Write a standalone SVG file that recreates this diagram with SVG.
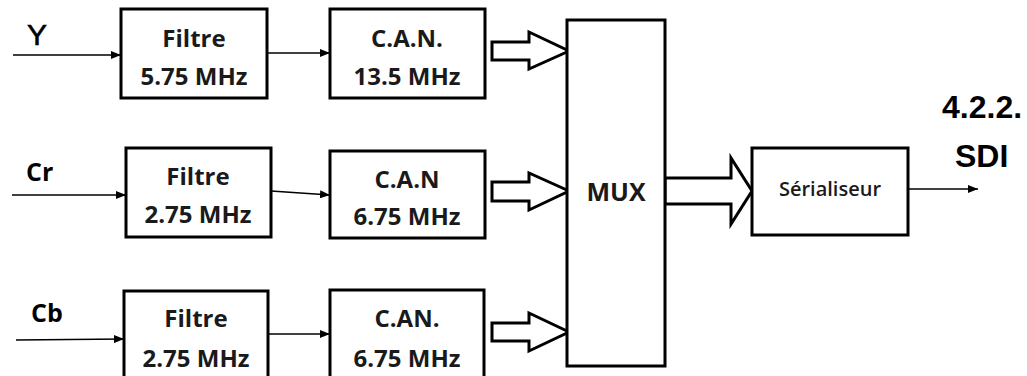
<svg xmlns="http://www.w3.org/2000/svg" width="1027" height="376" viewBox="0 0 1027 376">
<defs>
<marker id="ah" markerWidth="10" markerHeight="8" refX="10" refY="4" orient="auto" markerUnits="userSpaceOnUse">
<path d="M0,0 L10,4 L0,8 Z" fill="#000"/>
</marker>
<style>
.box{fill:#fff;stroke:#000;stroke-width:3}
.ln{stroke:#000;stroke-width:1.6;fill:none}
.big{fill:#fff;stroke:#000;stroke-width:3;stroke-linejoin:miter}
.t{font-family:"Open Sans","Noto Sans",sans-serif;font-weight:700;font-size:24px;fill:#1a1a1a;text-anchor:middle}
.lab{font-family:"Open Sans","Noto Sans",sans-serif;font-weight:700;font-size:25px;fill:#000}
.sdi{font-family:"Liberation Sans",Arial,sans-serif;font-weight:700;font-size:32px;fill:#000}
</style>
</defs>
<rect width="1027" height="376" fill="#fff"/>

<g id="connectors">
<line class="ln" x1="13" y1="55" x2="121" y2="55" marker-end="url(#ah)"/>
<line class="ln" x1="12" y1="195" x2="126" y2="195" marker-end="url(#ah)"/>
<line class="ln" x1="16" y1="340" x2="124" y2="339" marker-end="url(#ah)"/>
<line class="ln" x1="267" y1="53" x2="330" y2="53" marker-end="url(#ah)"/>
<line class="ln" x1="271" y1="191" x2="330" y2="195" marker-end="url(#ah)"/>
<line class="ln" x1="268" y1="334" x2="330" y2="334" marker-end="url(#ah)"/>
<path class="big" d="M492,42 H529 V32 L569,51 L529,69 V60 H492 Z"/>
<path class="big" d="M492,182 H529 V173 L569,191 L529,210 V201 H492 Z"/>
<path class="big" d="M492,323 H529 V313 L569,332 L529,351 V341 H492 Z"/>
<path class="big" d="M665,178 H731 V158 L752,191 L731,224 V204 H665 Z"/>
<line class="ln" x1="908" y1="189" x2="978" y2="189" marker-end="url(#ah)"/>
</g>

<g id="label-Y"><text x="27" y="45" style="font-family:'Liberation Sans',Arial,sans-serif;font-size:30px;fill:#000;stroke:#000;stroke-width:0.6">Y</text></g>
<g id="label-Cr"><text class="lab" x="26" y="181">Cr</text></g>
<g id="label-Cb"><text class="lab" x="31" y="322">Cb</text></g>

<g id="filtre1">
<rect class="box" x="121" y="9" width="146" height="89"/>
<text class="t" x="194" y="47">Filtre</text>
<text class="t" x="194" y="85">5.75 MHz</text>
</g>
<g id="can1">
<rect class="box" x="330" y="9" width="155" height="89"/>
<text class="t" x="407" y="47">C.A.N.</text>
<text class="t" x="407" y="85">13.5 MHz</text>
</g>

<g id="filtre2">
<rect class="box" x="126" y="148" width="145" height="89"/>
<text class="t" x="198" y="185">Filtre</text>
<text class="t" x="198" y="223">2.75 MHz</text>
</g>
<g id="can2">
<rect class="box" x="330" y="151" width="155" height="87"/>
<text class="t" x="407" y="188">C.A.N</text>
<text class="t" x="407" y="225">6.75 MHz</text>
</g>

<g id="filtre3">
<rect class="box" x="124" y="291" width="144" height="95"/>
<text class="t" x="196" y="327">Filtre</text>
<text class="t" x="196" y="367">2.75 MHz</text>
</g>
<g id="can3">
<rect class="box" x="330" y="290" width="154" height="96"/>
<text class="t" x="407" y="327">C.AN.</text>
<text class="t" x="407" y="367">6.75 MHz</text>
</g>

<g id="mux">
<rect class="box" x="567" y="20" width="98" height="346"/>
<text class="t" x="616" y="201" style="font-size:25px">MUX</text>
</g>

<g id="serialiseur">
<rect class="box" x="752" y="148" width="156" height="87"/>
<text class="t" x="830" y="196" style="font-size:20px;font-weight:600">Sérialiseur</text>
</g>

<g id="output-label">
<text class="sdi" x="942" y="118">4.2.2.</text>
<text class="sdi" x="955" y="167">SDI</text>
</g>
</svg>
